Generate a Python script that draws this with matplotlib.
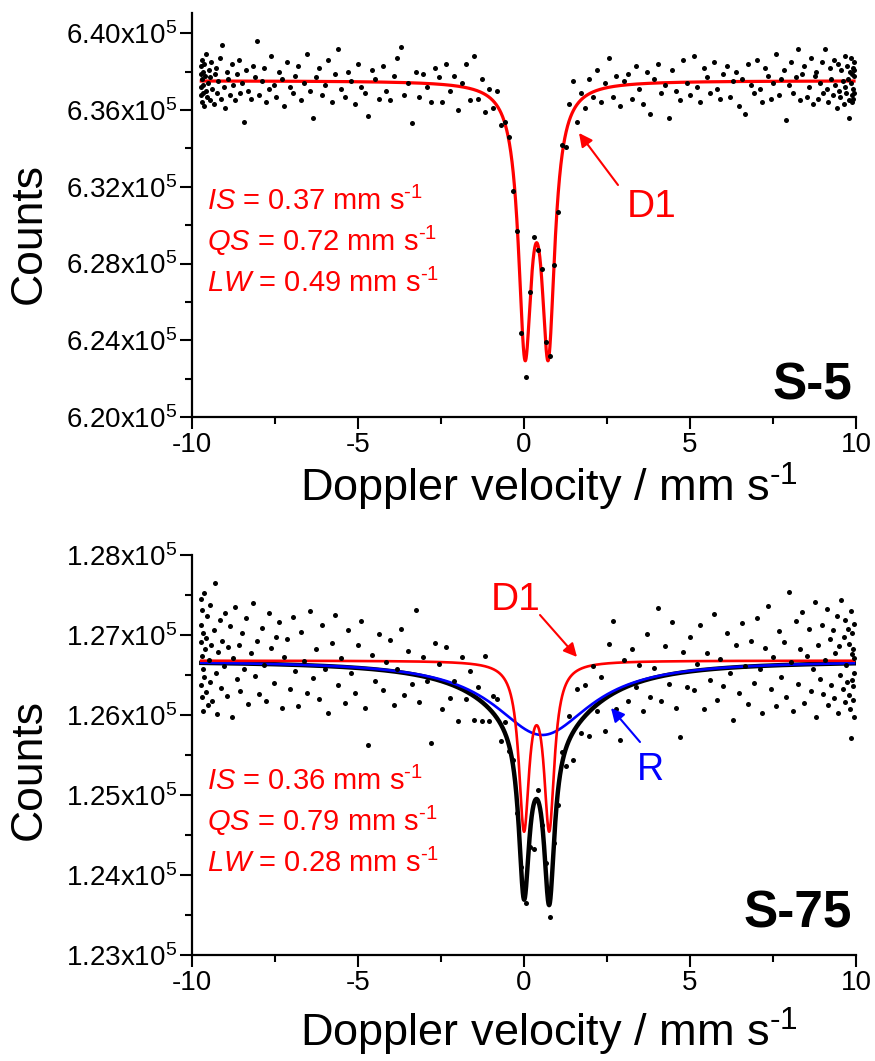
import numpy as np
import matplotlib
matplotlib.use("Agg")
import matplotlib.pyplot as plt
from matplotlib.ticker import MultipleLocator, FuncFormatter

plt.rcParams.update({
    "font.family": ["Liberation Sans", "DejaVu Sans"],
    "mathtext.fontset": "custom",
    "mathtext.rm": "Liberation Sans",
    "mathtext.it": "Liberation Sans:italic",
    "mathtext.bf": "Liberation Sans:bold",
    "axes.unicode_minus": False,
})

# ---------------- data ----------------
# Doppler velocity of each channel (mm/s)
velocity = [
    -9.72, -9.72, -9.72, -9.72, -9.71, -9.70, -9.69, -9.68, -9.67, -9.66,
    -9.64, -9.63, -9.61, -9.59, -9.57, -9.55, -9.52, -9.50, -9.47, -9.45,
    -9.42, -9.39, -9.35, -9.32, -9.28, -9.25, -9.21, -9.17, -9.13, -9.09,
    -9.04, -9.00, -8.95, -8.91, -8.86, -8.81, -8.76, -8.70, -8.65, -8.59,
    -8.54, -8.48, -8.42, -8.36, -8.30, -8.23, -8.17, -8.10, -8.04, -7.97,
    -7.90, -7.83, -7.76, -7.68, -7.61, -7.53, -7.46, -7.38, -7.30, -7.22,
    -7.14, -7.05, -6.97, -6.89, -6.80, -6.72, -6.63, -6.54, -6.45, -6.36,
    -6.27, -6.17, -6.08, -5.99, -5.89, -5.79, -5.70, -5.60, -5.50, -5.40,
    -5.30, -5.20, -5.10, -5.00, -4.90, -4.79, -4.69, -4.58, -4.48, -4.37,
    -4.26, -4.15, -4.04, -3.93, -3.82, -3.71, -3.60, -3.49, -3.38, -3.26,
    -3.15, -3.04, -2.92, -2.81, -2.69, -2.57, -2.46, -2.34, -2.23, -2.11,
    -1.99, -1.87, -1.75, -1.64, -1.52, -1.40, -1.28, -1.16, -1.04, -0.92,
    -0.80, -0.68, -0.56, -0.44, -0.32, -0.20, -0.08, 0.05, 0.17, 0.29,
    0.41, 0.53, 0.65, 0.77, 0.89, 1.01, 1.13, 1.25, 1.37, 1.49,
    1.61, 1.73, 1.85, 1.96, 2.08, 2.20, 2.32, 2.44, 2.55, 2.67,
    2.78, 2.90, 3.02, 3.13, 3.25, 3.36, 3.47, 3.59, 3.70, 3.81,
    3.92, 4.03, 4.14, 4.25, 4.36, 4.47, 4.58, 4.69, 4.79, 4.90,
    5.00, 5.11, 5.21, 5.31, 5.41, 5.51, 5.61, 5.71, 5.81, 5.91,
    6.00, 6.10, 6.20, 6.29, 6.38, 6.48, 6.57, 6.66, 6.75, 6.84,
    6.93, 7.01, 7.10, 7.18, 7.26, 7.35, 7.43, 7.51, 7.59, 7.67,
    7.74, 7.82, 7.89, 7.97, 8.04, 8.11, 8.18, 8.25, 8.31, 8.38,
    8.44, 8.51, 8.57, 8.63, 8.69, 8.75, 8.80, 8.86, 8.91, 8.97,
    9.02, 9.07, 9.12, 9.16, 9.21, 9.25, 9.30, 9.34, 9.38, 9.42,
    9.46, 9.49, 9.53, 9.56, 9.60, 9.63, 9.66, 9.68, 9.71, 9.73,
    9.76, 9.78, 9.80, 9.82, 9.84, 9.85, 9.87, 9.88, 9.89, 9.90,
    9.91, 9.92, 9.93, 9.93, 9.93, 9.94,
]

# S-5 counts (thousands)
counts_s5 = [
    637.9, 636.8, 638.3, 637.2, 636.4, 638.6, 637.6, 636.9, 638.0, 637.3,
    636.2, 638.4, 637.8, 637.0, 638.9, 636.7, 637.4, 638.1, 636.5, 637.7,
    638.5, 637.1, 636.3, 637.9, 638.2, 636.9, 637.5, 638.7, 636.6, 639.4,
    637.2, 636.1, 638.0, 637.6, 636.8, 638.4, 637.3, 636.5, 637.9, 638.6,
    636.9, 637.4, 635.4, 638.1, 637.0, 636.6, 638.3, 637.7, 639.6, 636.8,
    637.5, 638.2, 636.4, 637.1, 638.8, 637.3, 636.7, 638.0, 637.6, 636.2,
    638.5, 637.2, 636.9, 637.8, 638.3, 636.5, 637.4, 638.9, 637.0, 635.6,
    637.7, 638.2, 636.8, 637.3, 638.6, 636.4, 637.9, 639.2, 637.1, 636.7,
    638.0, 637.5, 636.3, 638.4, 637.2, 636.9, 635.7, 638.1, 637.6, 636.6,
    638.3, 637.0, 636.5, 637.8, 638.7, 639.3, 636.8, 637.4, 635.3, 638.0,
    636.7, 637.9, 637.2, 636.4, 638.2, 637.7, 636.4, 638.4, 637.0, 637.8,
    636.0, 637.4, 638.4, 636.5, 638.8, 636.6, 637.6, 635.9, 637.1, 636.1,
    637.0, 635.2, 635.4, 634.6, 631.8, 629.7, 624.4, 622.1, 626.5, 629.4,
    628.7, 627.7, 623.9, 623.2, 627.9, 630.7, 634.2, 634.1, 636.3, 637.5,
    635.4, 636.9, 636.1, 637.6, 636.7, 638.1, 636.4, 637.4, 638.7, 636.7,
    637.8, 636.2, 637.5, 637.9, 636.6, 638.3, 637.1, 636.3, 638.0, 635.8,
    637.6, 638.4, 636.9, 637.3, 635.6, 638.1, 637.0, 636.5, 638.6, 637.4,
    636.8, 638.8, 637.2, 636.4, 638.2, 637.7, 636.9, 638.5, 637.1, 636.6,
    637.9, 638.3, 636.7, 637.5, 638.0, 636.2, 637.6, 635.8, 638.4, 637.3,
    636.9, 638.6, 637.1, 636.4, 638.2, 637.8, 636.6, 637.4, 638.9, 636.8,
    637.6, 638.1, 635.5, 637.3, 638.5, 636.9, 637.7, 639.2, 636.5, 637.9,
    638.3, 636.7, 637.2, 638.7, 636.3, 637.8, 638.0, 636.6, 637.4, 638.5,
    636.9, 639.2, 637.1, 636.4, 638.2, 637.6, 636.8, 638.6, 637.3, 636.1,
    638.4, 637.0, 636.7, 638.1, 637.5, 636.3, 638.8, 637.2, 636.9, 638.3,
    637.6, 636.5, 635.6, 638.0, 637.4, 638.7, 636.8, 637.9, 636.4, 638.2,
    637.1, 636.6, 638.5, 637.8, 636.9, 638.1,
]

# S-75 counts (thousands)
counts_s75 = [
    127.12, 126.38, 126.91, 127.45, 126.22, 126.74, 127.31, 126.05, 126.58, 127.02,
    126.47, 127.53, 126.83, 126.29, 126.96, 127.24, 126.12, 126.69, 127.38, 126.41,
    126.88, 126.17, 127.06, 127.65, 126.52, 126.01, 126.79, 127.19, 126.34, 126.92,
    126.61, 127.28, 126.24, 126.85, 127.11, 125.98, 126.71, 127.35, 126.45, 126.87,
    126.30, 127.02, 126.57, 127.21, 126.14, 126.78, 127.40, 126.49, 126.93, 126.26,
    127.09, 126.63, 126.18, 127.27, 126.84, 126.40, 126.97, 127.16, 126.09, 126.72,
    126.95, 126.33, 127.22, 126.55, 126.11, 127.04, 126.68, 126.27, 127.30, 126.46,
    126.82, 126.20, 127.13, 126.58, 126.03, 126.90, 127.25, 126.37, 126.71, 126.15,
    127.06, 126.52, 126.28, 126.87, 127.18, 126.09, 125.63, 126.75, 126.43, 127.01,
    126.31, 126.66, 126.94, 126.12, 126.58, 127.08, 126.25, 126.80, 126.39, 127.31,
    126.16, 126.73, 126.42, 125.65, 126.90, 126.64, 126.07, 126.85, 126.21, 126.42,
    125.93, 126.73, 126.20, 126.55, 125.94, 126.35, 125.92, 126.74, 125.93, 126.24,
    126.20, 125.67, 125.91, 125.55, 125.44, 124.78, 124.10, 123.65, 124.35, 124.32,
    125.06, 124.62, 124.15, 123.48, 124.40, 124.88, 125.54, 125.36, 125.99, 125.44,
    126.32, 125.78, 126.37, 125.74, 126.61, 126.05, 126.47, 125.80, 126.89, 127.17,
    126.07, 125.69, 126.69, 126.18, 126.82, 126.35, 126.62, 126.05, 127.01, 126.23,
    126.59, 127.34, 126.18, 126.86, 126.39, 127.16, 126.09, 125.73, 126.79, 126.35,
    126.98, 126.31, 126.64, 127.12, 126.08, 126.77, 126.44, 127.26, 126.19, 126.70,
    126.36, 127.03, 126.52, 125.94, 126.88, 126.27, 127.15, 126.61, 126.14, 126.93,
    126.40, 127.21, 126.57, 126.02, 126.84, 127.36, 126.33, 126.72, 126.11, 127.05,
    126.48, 126.91, 126.23, 127.54, 126.66, 126.05, 127.18, 126.39, 126.82, 127.29,
    126.15, 126.74, 127.08, 126.30, 126.57, 127.41, 125.98, 126.87, 126.45, 127.12,
    126.26, 126.69, 127.33, 126.12, 126.95, 126.38, 127.06, 126.21, 126.78, 127.24,
    126.03, 126.86, 126.50, 127.44, 126.33, 126.97, 126.16, 127.19, 126.62, 126.41,
    127.08, 126.25, 126.89, 126.07, 127.30, 125.71, 126.76, 126.44, 127.02, 126.19,
    126.83, 126.36, 127.14, 125.97, 126.71, 126.52,
]

# Fitted Lorentzian components, thousands of counts
s5_baseline = 637.53
s5_line_pos = [0.03, 0.73]
s5_halfwidth = 0.24
s5_depth = 13.2

s75_baseline = 126.68
s75_line_pos = [0.00, 0.76]
s75_halfwidth = 0.19
s75_depth = 2.02
s75_r_pos = 0.55
s75_r_halfwidth = 1.78
s75_r_depth = 0.93

HY = "\u2010"  # hyphen used in the "s-1" superscripts
s5_text = [r"$\mathit{IS}$ = 0.37 mm s$^{" + HY + "1}$",
           r"$\mathit{QS}$ = 0.72 mm s$^{" + HY + "1}$",
           r"$\mathit{LW}$ = 0.49 mm s$^{" + HY + "1}$"]
s75_text = [r"$\mathit{IS}$ = 0.36 mm s$^{" + HY + "1}$",
            r"$\mathit{QS}$ = 0.79 mm s$^{" + HY + "1}$",
            r"$\mathit{LW}$ = 0.28 mm s$^{" + HY + "1}$"]
xlabel_text = "Doppler velocity / mm s$^{" + HY + "1}$"

# ---------------- drawing ----------------
W, H = 875, 1061
fig = plt.figure(figsize=(W / 100, H / 100), dpi=100)


def fx(px):
    return px / W


def fy(py):
    return 1 - py / H


def lor(v, c, hw):
    return 1.0 / (1.0 + ((v - c) / hw) ** 2)


vfine = np.linspace(-9.72, 9.94, 4000)

ax1 = fig.add_axes([fx(192), fy(417), (856 - 192) / W, (417 - 13) / H])
ax2 = fig.add_axes([fx(192), fy(955), (856 - 192) / W, (955 - 555) / H])

fmt = FuncFormatter(lambda v, p: f"{v / 1e5:.2f}x10$^{{5}}$")

for ax in (ax1, ax2):
    ax.set_xlim(-10, 10)
    for s in ("top", "right"):
        ax.spines[s].set_visible(False)
    for s in ("left", "bottom"):
        ax.spines[s].set_linewidth(1.6)
    ax.xaxis.set_major_locator(MultipleLocator(5))
    ax.xaxis.set_minor_locator(MultipleLocator(2.5))
    ax.tick_params(which="major", direction="out", length=8.5, width=1.5,
                   labelsize=20, pad=2)
    ax.tick_params(which="minor", direction="out", length=5, width=1.5)
    ax.yaxis.set_major_formatter(fmt)

# --- top panel
v = np.array(velocity)
fit5 = s5_baseline - s5_depth * sum(lor(vfine, c, s5_halfwidth) for c in s5_line_pos)
ax1.plot(vfine, fit5 * 1000, color="#ff0000", lw=2.3, zorder=2)
ax1.scatter(v, np.array(counts_s5) * 1000, s=13, color="black", lw=0, zorder=3)
ax1.set_ylim(620000, 641060)
ax1.yaxis.set_major_locator(MultipleLocator(4000))
ax1.yaxis.set_minor_locator(MultipleLocator(2000))

# --- bottom panel
d1 = s75_baseline - s75_depth * sum(lor(vfine, c, s75_halfwidth) for c in s75_line_pos)
rr = s75_baseline - s75_r_depth * lor(vfine, s75_r_pos, s75_r_halfwidth)
tot = d1 + rr - s75_baseline
ax2.plot(vfine, tot * 1000, color="black", lw=3.2, zorder=2)
ax2.plot(vfine, rr * 1000, color="#0000ff", lw=1.9, zorder=2.2)
ax2.plot(vfine, d1 * 1000, color="#ff0000", lw=1.9, zorder=2.4)
ax2.scatter(v, np.array(counts_s75) * 1000, s=13, color="black", lw=0, zorder=3)
ax2.set_ylim(123000, 128000)
ax2.yaxis.set_major_locator(MultipleLocator(1000))
ax2.yaxis.set_minor_locator(MultipleLocator(500))

# --- axis labels
for ycen in (234, 770):
    fig.text(fx(29), fy(ycen), "Counts", rotation=90, ha="center", va="center",
             fontsize=32)
for ybase in (502, 1047):
    fig.text(fx(549), fy(ybase), xlabel_text, ha="center",
             va="baseline", fontsize=32.5)

# --- parameter text
for txt, yb in zip(s5_text, (210, 251, 292)):
    fig.text(fx(207), fy(yb), txt, color="#ff0000", fontsize=21, va="baseline")
for txt, yb in zip(s75_text, (790, 831, 872)):
    fig.text(fx(207), fy(yb), txt, color="#ff0000", fontsize=21, va="baseline")

# --- sample labels
fig.text(fx(852), fy(400), "S-5", fontsize=37, fontweight="bold", ha="right",
         va="baseline")
fig.text(fx(852), fy(928), "S-75", fontsize=37, fontweight="bold", ha="right",
         va="baseline")

# --- component labels with arrows
fig.text(fx(627), fy(217), "D1", color="#ff0000", fontsize=28, va="baseline")
fig.text(fx(491), fy(610), "D1", color="#ff0000", fontsize=28, va="baseline")
fig.text(fx(637), fy(780), "R", color="#0000ff", fontsize=27, va="baseline")

arrow_red = dict(arrowstyle="-|>", color="#ff0000", lw=1.5, mutation_scale=20,
                 shrinkA=0, shrinkB=0)
arrow_blue = dict(arrowstyle="-|>", color="#0000ff", lw=1.5, mutation_scale=20,
                  shrinkA=0, shrinkB=0)
fig.add_artist(matplotlib.patches.FancyArrowPatch(
    (618, H - 185), (579, H - 133), transform=None, **arrow_red))
fig.add_artist(matplotlib.patches.FancyArrowPatch(
    (540, H - 615), (577, H - 657), transform=None, **arrow_red))
fig.add_artist(matplotlib.patches.FancyArrowPatch(
    (640, H - 742), (611, H - 708), transform=None, **arrow_blue))

fig.savefig("out.png", dpi=100)
